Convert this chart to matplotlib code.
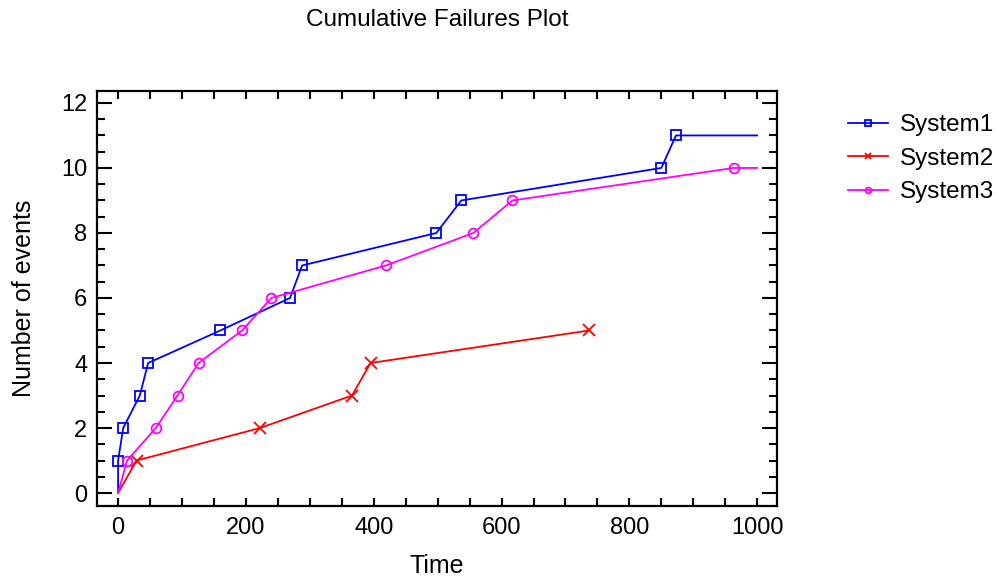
import matplotlib
matplotlib.use("Agg")
import matplotlib.pyplot as plt
from matplotlib.ticker import MultipleLocator

plt.rcParams['font.family'] = ['Liberation Sans', 'DejaVu Sans']

# Data
s1_time = [0, 0, 8, 34, 47, 160, 269, 288, 498, 537, 850, 873, 1000]
s1_count = [0, 1, 2, 3, 4, 5, 6, 7, 8, 9, 10, 11, 11]
s1_marked = [False, True, True, True, True, True, True, True, True, True, True, True, False]

s2_time = [0, 29, 222, 366, 395, 737]
s2_count = [0, 1, 2, 3, 4, 5]
s2_marked = [False, True, True, True, True, True]

s3_time = [0, 14, 59, 93, 126, 194, 240, 419, 556, 617, 963, 1000]
s3_count = [0, 1, 2, 3, 4, 5, 6, 7, 8, 9, 10, 10]
s3_marked = [False, True, True, True, True, True, True, True, True, True, True, False]

series_names = ["System1", "System2", "System3"]
colors = ["#0000ff", "#ff0000", "#ff00ff"]
markers = ["s", "x", "o"]

title = "Cumulative Failures Plot"
xlabel = "Time"
ylabel = "Number of events"

fig = plt.figure(figsize=(10, 5.79), dpi=100)
ax = fig.add_axes([0.097, 0.126, 0.68, 0.717])

for (t, c, m), name, col, mk in zip(
        [(s1_time, s1_count, s1_marked), (s2_time, s2_count, s2_marked), (s3_time, s3_count, s3_marked)],
        series_names, colors, markers):
    idx = [i for i, v in enumerate(m) if v]
    ax.plot(t, c, color=col, lw=1.3, marker=mk, markevery=idx,
            markersize=7 if mk != 'x' else 8, fillstyle='none', markeredgewidth=1.3,
            label=name)

ax.set_xlim(-33, 1031)
ax.set_ylim(-0.4, 12.37)
ax.xaxis.set_major_locator(MultipleLocator(200))
ax.xaxis.set_minor_locator(MultipleLocator(50))
ax.yaxis.set_major_locator(MultipleLocator(2))
ax.yaxis.set_minor_locator(MultipleLocator(0.5))

for sp in ax.spines.values():
    sp.set_linewidth(1.6)

ax.tick_params(axis='both', which='both', direction='in', top=True, right=True, width=1.5, labelsize=17)
ax.tick_params(axis='x', which='both', length=6, pad=8)
ax.tick_params(axis='y', which='major', length=11, pad=7)
ax.tick_params(axis='y', which='minor', length=6)

ax.set_xlabel(xlabel, fontsize=18, labelpad=11)
ax.set_ylabel(ylabel, fontsize=18, labelpad=18)
fig.text(0.437, 0.966, title, ha='center', va='center', fontsize=17.5)

ax.legend(loc='upper left', bbox_to_anchor=(1.072, 0.997), frameon=False, fontsize=17.5,
          handlelength=1.65, handletextpad=0.5, labelspacing=0.48, markerscale=0.6)

fig.savefig("out.png", dpi=100)
